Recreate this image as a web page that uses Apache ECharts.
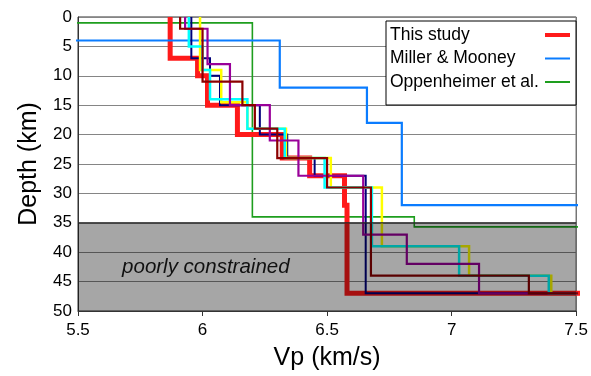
<!DOCTYPE html>
<html>
<head>
<meta charset="utf-8">
<script src="https://cdn.jsdelivr.net/npm/echarts@6/dist/echarts.min.js"></script>
<style>
  html, body { margin: 0; padding: 0; background: #ffffff; }
  #chart { width: 591px; height: 376px; }
</style>
</head>
<body>
<div id="chart"></div>
<script>
// Axis ticks
const VP_TICKS = [5.5, 6, 6.5, 7, 7.5];
const DEPTH_TICKS = [0, 5, 10, 15, 20, 25, 30, 35, 40, 45, 50];

// Layered P-wave velocity models: layer top depths (km) and layer velocities (km/s)
const thisStudyTops = [0, 7, 10, 15, 20, 24, 27, 32, 47];
const thisStudyVp   = [5.87, 5.98, 6.02, 6.14, 6.32, 6.43, 6.57, 6.58, 7.8];

const millerTops = [0, 4, 12, 18, 32];
const millerVp   = [5.2, 6.31, 6.66, 6.80, 7.9];

const oppenTops = [0, 1, 34, 35.7];
const oppenVp   = [5.0, 6.20, 6.85, 7.9];

const navyTops = [0, 7, 10, 15, 20, 24, 27, 47];
const navyVp   = [5.955, 6.03, 6.07, 6.23, 6.34, 6.45, 6.655, 7.8];

const cyanTops = [0, 5, 9, 14, 19, 24, 29, 39, 44, 47];
const cyanVp   = [5.945, 6.0, 6.03, 6.18, 6.33, 6.49, 6.68, 7.03, 7.39, 7.8];

const yellowTops = [0, 9, 14.5, 19, 24, 29, 39, 44, 47];
const yellowVp   = [5.99, 6.075, 6.18, 6.335, 6.515, 6.72, 7.07, 7.40, 7.8];

const purpleTops = [0, 2, 8, 15, 21, 27, 37, 42, 47];
const purpleVp   = [5.93, 6.02, 6.11, 6.27, 6.385, 6.645, 6.82, 7.11, 7.8];

const maroonTops = [0, 2, 11, 15, 19, 24, 29, 44, 47];
const maroonVp   = [5.91, 6.0, 6.16, 6.21, 6.30, 6.50, 6.676, 7.31, 7.8];

// Depth range shaded as poorly resolved
const SHADE_RANGE = [35, 50];
const SHADE_LABEL = 'poorly constrained';
const SHADE_LABEL_AT = [5.677, 42.6];

const FONT = '"Liberation Sans", Arial, sans-serif';
const MAX_DEPTH = DEPTH_TICKS[DEPTH_TICKS.length - 1];

// Turn a layer list into a staircase profile (velocity, depth)
function profile(tops, vps) {
  const pts = [];
  for (let i = 0; i < tops.length; i++) {
    const bottom = i + 1 < tops.length ? tops[i + 1] : MAX_DEPTH;
    pts.push([vps[i], tops[i]]);
    pts.push([vps[i], bottom]);
  }
  return pts;
}

function stepSeries(name, tops, vps, color, width, z) {
  return {
    name: name,
    type: 'line',
    data: profile(tops, vps),
    symbol: 'none',
    showSymbol: false,
    clip: true,
    z: z,
    lineStyle: { color: color, width: width, join: 'miter' },
    itemStyle: { color: color },
    emphasis: { disabled: true },
    silent: true,
    animation: false
  };
}

const chart = echarts.init(document.getElementById('chart'), null, { renderer: 'canvas' });

chart.setOption({
  animation: false,
  backgroundColor: '#ffffff',
  grid: {
    left: 78, right: 13, top: 17, bottom: 63,
    show: true, borderColor: '#333333', borderWidth: 1, backgroundColor: 'transparent'
  },
  legend: {
    data: [
      { name: 'This study', lineStyle: { width: 4 } },
      { name: 'Miller & Mooney', lineStyle: { width: 2 } },
      { name: 'Oppenheimer et al.', lineStyle: { width: 2 } }
    ],
    orient: 'vertical',
    left: 386, top: 21,
    align: 'right',
    itemWidth: 25, itemHeight: 14, itemGap: 5.5,
    padding: [5, 4, 14, 4],
    backgroundColor: '#ffffff',
    borderColor: '#000000', borderWidth: 1, borderRadius: 0,
    selectedMode: false,
    itemStyle: { opacity: 0, borderWidth: 0 },
    formatter: function (name) { return '{t|' + name + '}'; },
    textStyle: {
      rich: { t: { width: 150, align: 'left', lineHeight: 18, fontSize: 17.5, fontFamily: FONT, color: '#000000' } }
    }
  },
  xAxis: {
    type: 'value',
    min: VP_TICKS[0], max: VP_TICKS[VP_TICKS.length - 1], interval: VP_TICKS[1] - VP_TICKS[0],
    name: 'Vp (km/s)', nameLocation: 'middle', nameGap: 35,
    nameTextStyle: { fontSize: 25, fontFamily: FONT, color: '#000000' },
    axisLine: { show: true, onZero: false, lineStyle: { color: '#333333', width: 1 } },
    axisTick: { show: true, inside: false, length: 5, lineStyle: { color: '#333333' } },
    axisLabel: { fontSize: 17, fontFamily: FONT, color: '#000000', margin: 11 },
    splitLine: { show: false }
  },
  yAxis: {
    type: 'value', inverse: true,
    min: DEPTH_TICKS[0], max: MAX_DEPTH, interval: DEPTH_TICKS[1] - DEPTH_TICKS[0],
    name: 'Depth (km)', nameLocation: 'middle', nameGap: 36,
    nameTextStyle: { fontSize: 25, fontFamily: FONT, color: '#000000' },
    axisLine: { show: true, onZero: false, lineStyle: { color: '#333333', width: 1 } },
    axisTick: { show: false },
    axisLabel: { fontSize: 17, fontFamily: FONT, color: '#000000', margin: 6 },
    splitLine: { show: true, lineStyle: { color: '#858585', width: 1 } }
  },
  series: [
    stepSeries('Oppenheimer et al.', oppenTops, oppenVp, '#1e9e1e', 1.6, 2),
    stepSeries('This study', thisStudyTops, thisStudyVp, '#ff1a1a', 5, 3),
    stepSeries('Miller & Mooney', millerTops, millerVp, '#0a7cff', 2.2, 4),
    stepSeries('model A', navyTops, navyVp, '#00007a', 2, 5),
    stepSeries('model B', yellowTops, yellowVp, '#ffff00', 2.5, 6),
    stepSeries('model C', cyanTops, cyanVp, '#00ffff', 2.5, 7),
    stepSeries('model D', purpleTops, purpleVp, '#990099', 2.2, 8),
    stepSeries('model E', maroonTops, maroonVp, '#8b0000', 2.2, 9),
    {
      // translucent shading over the deep, poorly resolved part of the profiles
      type: 'custom',
      name: 'shade',
      z: 20,
      silent: true,
      clip: true,
      data: [[SHADE_RANGE[0], SHADE_RANGE[1]]],
      renderItem: function (params, api) {
        const cs = params.coordSys;
        const yTop = api.coord([VP_TICKS[0], api.value(0)])[1];
        const yBot = api.coord([VP_TICKS[0], api.value(1)])[1];
        const lab = api.coord(SHADE_LABEL_AT);
        return {
          type: 'group',
          children: [
            {
              type: 'rect',
              shape: { x: cs.x, y: yTop, width: cs.width, height: yBot - yTop },
              style: { fill: 'rgba(0,0,0,0.35)', stroke: null }
            },
            {
              type: 'line',
              shape: { x1: cs.x, y1: yTop, x2: cs.x + cs.width, y2: yTop },
              style: { stroke: 'rgba(40,40,40,0.8)', lineWidth: 1.5 }
            },
            {
              type: 'text',
              x: lab[0], y: lab[1],
              style: {
                text: SHADE_LABEL,
                fontSize: 20.5, fontStyle: 'italic', fontFamily: FONT,
                fill: '#111111', align: 'left', verticalAlign: 'middle'
              }
            }
          ]
        };
      }
    }
  ]
});
</script>
</body>
</html>
